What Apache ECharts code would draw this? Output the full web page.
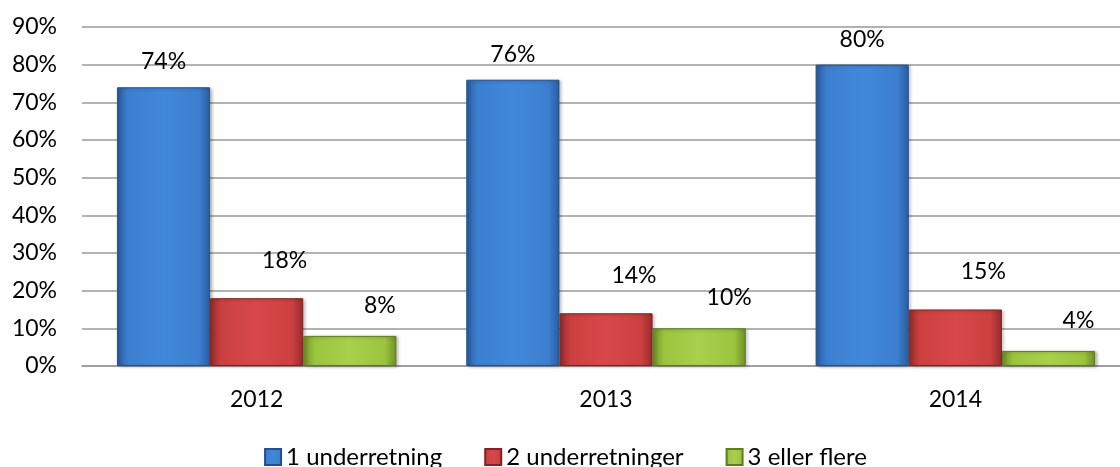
<!DOCTYPE html>
<html>
<head>
<meta charset="utf-8">
<script src="https://cdn.jsdelivr.net/npm/echarts@6/dist/echarts.min.js"></script>
<style>
  html, body { margin: 0; padding: 0; background: #fff; overflow: hidden; }
  /* the original chart runs a little past the right edge of the picture */
  #chart { width: 1131px; height: 467px; }
</style>
</head>
<body>
<div id="chart"></div>
<script>
var years = ['2012', '2013', '2014'];
var seriesNames = ['1 underretning', '2 underretninger', '3 eller flere'];
var one = [74, 76, 80];
var two = [18, 14, 15];
var threePlus = [8, 10, 4];

function barchart() {
    var myChart = echarts.init(document.getElementById('chart'));
    var font = 'Lato, "Open Sans", sans-serif';

    // dark edge, light middle: rough imitation of the bevelled Excel bars
    function grad(light, mid, dark) {
        return new echarts.graphic.LinearGradient(0, 0, 1, 0, [
            { offset: 0, color: dark },
            { offset: 0.12, color: mid },
            { offset: 0.5, color: light },
            { offset: 0.88, color: mid },
            { offset: 1, color: dark }
        ]);
    }

    var styles = [
        { color: grad('#4288DA', '#3C7FD0', '#2A5C9E'), border: '#24508a', legend: '#3C7FD0', offset: [0, -9] },
        { color: grad('#D8484A', '#CC4040', '#962C2C'), border: '#7f2424', legend: '#CC4040', offset: [28, -21] },
        { color: grad('#A9D04C', '#9BC43E', '#6E8E26'), border: '#5f7a20', legend: '#9BC43E', offset: [30, -14] }
    ];
    var values = [one, two, threePlus];

    var series = seriesNames.map(function (name, i) {
        return {
            name: name,
            type: 'bar',
            data: values[i],
            barGap: 0,
            barCategoryGap: '20%',
            itemStyle: {
                color: styles[i].color,
                borderColor: styles[i].border,
                borderWidth: 1,
                shadowColor: 'rgba(0,0,0,0.25)',
                shadowBlur: 3,
                shadowOffsetX: 2,
                shadowOffsetY: 1
            },
            label: {
                show: true,
                position: 'top',
                distance: 5,
                offset: styles[i].offset,
                formatter: '{c}%',
                color: '#000',
                fontFamily: font,
                fontSize: 23
            }
        };
    });

    var option = {
        animation: false,
        color: styles.map(function (s) { return s.legend; }),
        grid: {
            left: 82,
            right: 1,
            top: 27,
            bottom: 101
        },
        legend: {
            top: 440,
            left: 'center',
            itemWidth: 16,
            itemHeight: 16,
            itemGap: 42,
            icon: 'rect',
            textStyle: {
                color: '#000',
                fontFamily: font,
                fontSize: 24
            },
            data: seriesNames
        },
        xAxis: {
            type: 'category',
            data: years,
            axisTick: { show: false },
            axisLine: { lineStyle: { color: '#999', width: 1.5 } },
            axisLabel: {
                color: '#000',
                fontFamily: font,
                fontSize: 23,
                margin: 22
            }
        },
        yAxis: {
            type: 'value',
            min: 0,
            max: 90,
            interval: 10,
            axisLine: { show: false },
            axisTick: { show: false },
            axisLabel: {
                formatter: '{value}%',
                color: '#000',
                fontFamily: font,
                fontSize: 23,
                margin: 25
            },
            splitLine: { lineStyle: { color: '#999', width: 1.5 } }
        },
        series: series
    };
    myChart.setOption(option);
}
barchart();
</script>
</body>
</html>
